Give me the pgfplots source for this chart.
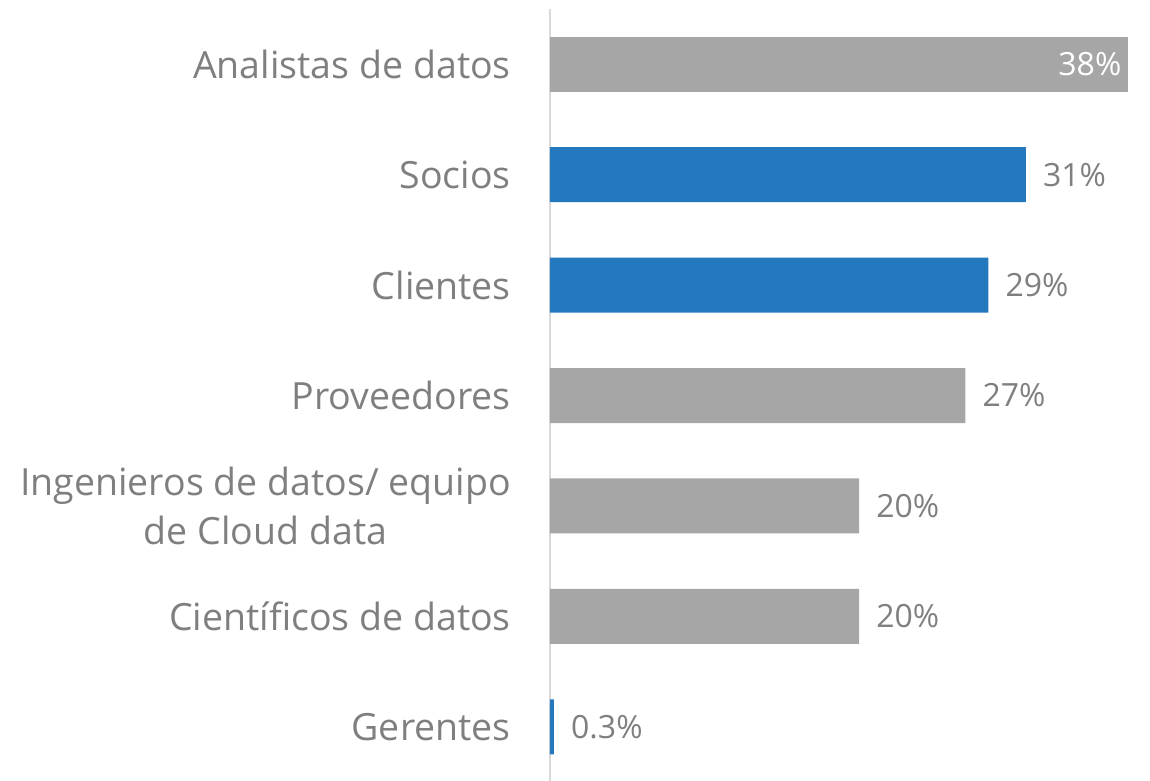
\documentclass[border=0pt]{standalone}
\usepackage{fontspec}
\setmainfont{Open Sans}
\usepackage{pgfplots}
\pgfplotsset{compat=1.18}
\definecolor{barblue}{HTML}{2378BE}
\definecolor{bargray}{HTML}{A6A6A6}
\definecolor{txtgray}{HTML}{7F7F7F}
\definecolor{axgray}{HTML}{D9D9D9}
\begin{document}
\begin{tikzpicture}
\useasboundingbox (-550pt,2pt) rectangle (600pt,782pt);
\begin{axis}[
 at={(0pt,0pt)}, anchor=south west,
 scale only axis, width=600pt, height=773pt,
 xbar, bar width=55pt, bar shift=0pt,
 xmin=0, xmax=39.216, ymin=-0.5, ymax=6.5,
 axis x line=none,
 axis y line=left,
 axis line style={-, draw=axgray, line width=2pt},
 ytick={0,...,6},
 yticklabels={Gerentes, Científicos de datos, {Ingenieros de datos/ equipo\\de Cloud data}, Proveedores, Clientes, Socios, Analistas de datos},
 major tick length=0pt,
 yticklabel style={anchor=east, inner sep=0pt, xshift=-39pt, align=center, font=\fontsize{37.5}{49}\selectfont, text=txtgray},
 point meta=explicit symbolic,
 nodes near coords={\pgfplotspointmeta\%},
 nodes near coords style={anchor=west, inner sep=0pt, xshift=17pt, font=\fontsize{32}{38}\selectfont, text=txtgray},
 clip=false,
]
\addplot[fill=bargray, draw=none] table[meta=label] {
x y label
27.15 3 27
20.2 2 20
20.2 1 20
};
\addplot[fill=bargray, draw=none, nodes near coords style={anchor=east, xshift=-23pt, text=white}] table[meta=label] {
x y label
37.75 6 38
};
\addplot[fill=barblue, draw=none] table[meta=label] {
x y label
31.1 5 31
28.65 4 29
0.26 0 0.3
};
\end{axis}
\end{tikzpicture}
\end{document}
